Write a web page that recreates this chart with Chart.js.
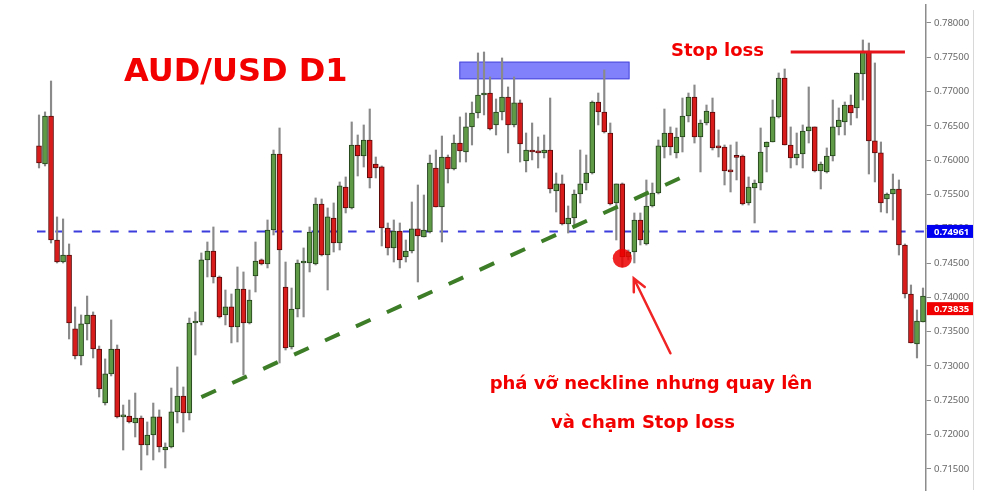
<!DOCTYPE html>
<html lang="vi">
<head>
<meta charset="UTF-8">
<title>AUD/USD D1</title>
<script src="https://cdn.jsdelivr.net/npm/chart.js"></script>
<style>
  html, body { margin: 0; padding: 0; background: #fff; }
  #wrap { width: 1000px; height: 500px; position: relative; }
</style>
</head>
<body>
<div id="wrap"><canvas id="chart"></canvas></div>
<script>
// daily candles
const opens = [
  0.76207, 0.75945, 0.76644, 0.74836, 0.74515, 0.74617, 0.73539, 0.73145, 0.73612, 0.73743,
  0.73247, 0.72459, 0.72883, 0.73247, 0.72256, 0.72270, 0.72168, 0.72241, 0.71847, 0.71993,
  0.72256, 0.71774, 0.71818, 0.72329, 0.72562, 0.72314, 0.73626, 0.73641, 0.74545, 0.74676,
  0.74297, 0.73743, 0.73860, 0.73568, 0.74122, 0.73626, 0.74311, 0.74545, 0.74486, 0.74982,
  0.76090, 0.74151, 0.73276, 0.73830, 0.74501, 0.74501, 0.74486, 0.75361, 0.74617, 0.75157,
  0.74792, 0.75609, 0.75303, 0.76221, 0.76061, 0.76294, 0.75944, 0.75901, 0.75011, 0.74720,
  0.74967, 0.74588, 0.74676, 0.74997, 0.74880, 0.74953, 0.75886, 0.75317, 0.76046, 0.75871,
  0.76250, 0.76119, 0.76484, 0.76688, 0.76950, 0.76979, 0.76513, 0.76702, 0.76921, 0.76513,
  0.76834, 0.75988, 0.76134, 0.76119, 0.76105, 0.76148, 0.75551, 0.75653, 0.75070, 0.75157,
  0.75507, 0.75667, 0.75813, 0.76848, 0.76702, 0.76396, 0.75376, 0.75653, 0.74588, 0.74661,
  0.75128, 0.74778, 0.75332, 0.75521, 0.76192, 0.76396, 0.76105, 0.76338, 0.76644, 0.76921,
  0.76338, 0.76542, 0.76702, 0.76192, 0.76192, 0.75842, 0.76046, 0.76061, 0.75376, 0.75594,
  0.75667, 0.76192, 0.76265, 0.76630, 0.77198, 0.76221, 0.76032, 0.76090, 0.76425, 0.76484,
  0.75842, 0.75828, 0.76061, 0.76484, 0.76557, 0.76804, 0.76761, 0.77256, 0.77592, 0.76280,
  0.76105, 0.75434, 0.75507, 0.75580, 0.74763, 0.74049, 0.73320, 0.73641
];
const highs = [
  0.76659, 0.76703, 0.77154, 0.75172, 0.75143, 0.74778, 0.73860, 0.73743, 0.74019, 0.73787,
  0.73290, 0.73102, 0.73670, 0.73305, 0.72430, 0.72503, 0.72605, 0.72270, 0.72183, 0.72459,
  0.72358, 0.71877, 0.72678, 0.72985, 0.72693, 0.73699, 0.73787, 0.74647, 0.74807, 0.75026,
  0.74311, 0.74107, 0.74049, 0.74443, 0.74370, 0.74107, 0.74807, 0.74559, 0.75128, 0.76148,
  0.76469, 0.74515, 0.74136, 0.74545, 0.74720, 0.75026, 0.75449, 0.75434, 0.75303, 0.75376,
  0.75682, 0.75755, 0.76557, 0.76367, 0.76513, 0.76746, 0.76046, 0.75915, 0.75084, 0.75128,
  0.75084, 0.74836, 0.75390, 0.75638, 0.75492, 0.76075, 0.76148, 0.76352, 0.76075, 0.76367,
  0.76630, 0.76688, 0.76848, 0.77563, 0.77577, 0.77213, 0.76892, 0.77490, 0.77067, 0.77213,
  0.76877, 0.76396, 0.76542, 0.76338, 0.76367, 0.76906, 0.75813, 0.75784, 0.75332, 0.75565,
  0.76148, 0.76075, 0.76863, 0.76979, 0.77315, 0.76542, 0.75653, 0.75667, 0.74690, 0.75230,
  0.75230, 0.75711, 0.75667, 0.76294, 0.76746, 0.76484, 0.76469, 0.76906, 0.76979, 0.77096,
  0.76586, 0.76804, 0.76906, 0.76440, 0.76221, 0.76221, 0.76265, 0.76075, 0.75755, 0.75711,
  0.76469, 0.76265, 0.76877, 0.77271, 0.77329, 0.76484, 0.76396, 0.76513, 0.77067, 0.76484,
  0.75973, 0.76178, 0.76877, 0.76761, 0.76848, 0.76950, 0.77271, 0.77752, 0.77708, 0.77417,
  0.76265, 0.75521, 0.75798, 0.75711, 0.74778, 0.74180, 0.73816, 0.74136
];
const lows = [
  0.75886, 0.75915, 0.74792, 0.74501, 0.74501, 0.73393, 0.73102, 0.73014, 0.73378, 0.73116,
  0.72547, 0.72430, 0.72854, 0.72241, 0.71774, 0.72168, 0.71964, 0.71483, 0.71701, 0.71629,
  0.71745, 0.71512, 0.71804, 0.72168, 0.72037, 0.72212, 0.73159, 0.73597, 0.74297, 0.74209,
  0.73699, 0.73597, 0.73335, 0.73349, 0.72868, 0.73612, 0.74078, 0.74472, 0.74428, 0.74909,
  0.73043, 0.73232, 0.73247, 0.73714, 0.73714, 0.74370, 0.74472, 0.74603, 0.74107, 0.74661,
  0.74690, 0.75230, 0.75288, 0.75769, 0.75900, 0.75594, 0.75740, 0.74749, 0.74617, 0.74515,
  0.74428, 0.74515, 0.74647, 0.74224, 0.74880, 0.74938, 0.75317, 0.74807, 0.75667, 0.75857,
  0.75973, 0.75973, 0.76221, 0.76615, 0.76659, 0.76440, 0.76367, 0.76586, 0.76105, 0.76484,
  0.75973, 0.75828, 0.76003, 0.75886, 0.76032, 0.75521, 0.75244, 0.75055, 0.74938, 0.75026,
  0.75376, 0.75565, 0.75798, 0.76513, 0.76396, 0.75346, 0.74836, 0.74443, 0.74545, 0.74501,
  0.74763, 0.74763, 0.75317, 0.75507, 0.76032, 0.76075, 0.76032, 0.76119, 0.76557, 0.76250,
  0.75828, 0.76513, 0.76148, 0.76046, 0.75638, 0.75536, 0.75711, 0.75346, 0.75346, 0.75084,
  0.75565, 0.75828, 0.76265, 0.76615, 0.76221, 0.75886, 0.75930, 0.75886, 0.76250, 0.75828,
  0.75580, 0.75813, 0.75988, 0.76367, 0.76367, 0.76513, 0.76615, 0.76877, 0.75798, 0.75682,
  0.75244, 0.75230, 0.75128, 0.74617, 0.73990, 0.73335, 0.73116, 0.73641
];
const closes = [
  0.75959, 0.76644, 0.74836, 0.74515, 0.74617, 0.73626, 0.73145, 0.73612, 0.73743, 0.73247,
  0.72664, 0.72883, 0.73247, 0.72256, 0.72270, 0.72183, 0.72241, 0.71847, 0.71993, 0.72256,
  0.71818, 0.71818, 0.72329, 0.72562, 0.72314, 0.73626, 0.73641, 0.74545, 0.74676, 0.74297,
  0.73714, 0.73860, 0.73568, 0.74122, 0.73626, 0.73961, 0.74530, 0.74486, 0.74982, 0.76090,
  0.74690, 0.73261, 0.73830, 0.74501, 0.74515, 0.74953, 0.75361, 0.74617, 0.75172, 0.74792,
  0.75624, 0.75303, 0.76221, 0.76061, 0.76294, 0.75740, 0.75886, 0.75011, 0.74720, 0.74967,
  0.74545, 0.74676, 0.74997, 0.74895, 0.74982, 0.75959, 0.75317, 0.76046, 0.75871, 0.76250,
  0.76134, 0.76484, 0.76688, 0.76950, 0.76979, 0.76455, 0.76702, 0.76921, 0.76513, 0.76834,
  0.76236, 0.76148, 0.76119, 0.76105, 0.76148, 0.75580, 0.75653, 0.75070, 0.75157, 0.75507,
  0.75653, 0.75813, 0.76848, 0.76702, 0.76411, 0.75361, 0.75653, 0.74588, 0.74661, 0.75128,
  0.74836, 0.75332, 0.75521, 0.76207, 0.76396, 0.76192, 0.76338, 0.76644, 0.76921, 0.76338,
  0.76542, 0.76717, 0.76178, 0.76178, 0.75842, 0.75828, 0.76040, 0.75361, 0.75609, 0.75667,
  0.76119, 0.76265, 0.76630, 0.77198, 0.76221, 0.76032, 0.76090, 0.76425, 0.76484, 0.75842,
  0.75944, 0.76061, 0.76484, 0.76586, 0.76804, 0.76688, 0.77271, 0.77592, 0.76280, 0.76105,
  0.75376, 0.75507, 0.75580, 0.74763, 0.74049, 0.73335, 0.73655, 0.74019
];

// price axis
const yTicks = [0.715, 0.72, 0.725, 0.73, 0.735, 0.74, 0.745, 0.75, 0.755, 0.76, 0.765, 0.77, 0.775, 0.78];
const yMin = 0.71191;
const yMax = 0.78262;

// levels drawn on the chart
const neckline = 0.74961;
const lastPrice = 0.73835;
const zoneX = [69.9, 98.2];          // candle index range of the blue box
const zoneY = [0.77179, 0.77436];    // price range of the blue box
const stopX = [125, 144];
const stopLevel = 0.77577;
const trendX = [27, 107];
const trendY = [0.72545, 0.75754];
const breakX = 97;
const breakY = 0.74570;
const arrowX = [105.0, 98.9];        // tail -> tip
const arrowY = [0.73184, 0.74278];

const labels = opens.map((_, i) => String(i + 1));
const isUp = opens.map((o, i) => closes[i] >= o);

function sparse(xs, ys) {
  return labels.map((_, i) => {
    const k = xs.indexOf(i);
    return k === -1 ? null : ys[k];
  });
}

const overlay = {
  id: 'overlay',
  beforeDatasetsDraw(chart) {
    const { ctx, chartArea } = chart;
    const x = chart.scales.x, y = chart.scales.y;
    ctx.save();
    // resistance zone
    const x1 = x.getPixelForValue(zoneX[0]), x2 = x.getPixelForValue(zoneX[1]);
    const y1 = y.getPixelForValue(zoneY[1]), y2 = y.getPixelForValue(zoneY[0]);
    ctx.fillStyle = 'rgba(112,112,250,0.88)';
    ctx.fillRect(x1, y1, x2 - x1, y2 - y1);
    ctx.strokeStyle = '#4b4bdc';
    ctx.lineWidth = 1;
    ctx.strokeRect(x1 + 0.5, y1 + 0.5, x2 - x1 - 1, y2 - y1 - 1);
    // neckline
    const ny = y.getPixelForValue(neckline);
    ctx.setLineDash([8.5, 9.8]);
    ctx.strokeStyle = '#3c3cdc';
    ctx.lineWidth = 2;
    ctx.beginPath();
    ctx.moveTo(chartArea.left + 1, ny);
    ctx.lineTo(chartArea.right, ny);
    ctx.stroke();
    ctx.restore();
  },
  afterDraw(chart) {
    const { ctx, chartArea } = chart;
    const x = chart.scales.x, y = chart.scales.y;
    ctx.save();

    // light border right of the price labels
    ctx.strokeStyle = '#d8d8d8';
    ctx.lineWidth = 1;
    ctx.beginPath();
    ctx.moveTo(973.5, chartArea.top + 5);
    ctx.lineTo(973.5, chartArea.bottom);
    ctx.stroke();

    // price badges
    function badge(value, color) {
      const py = y.getPixelForValue(value);
      ctx.fillStyle = color;
      ctx.fillRect(chartArea.right + 1, py - 6.5, 973 - chartArea.right - 1, 13);
      ctx.fillStyle = '#fff';
      ctx.font = 'bold 9.5px "Noto Sans"';
      ctx.textAlign = 'left';
      ctx.textBaseline = 'middle';
      ctx.fillText(value.toFixed(5), chartArea.right + 8, py + 0.5);
    }
    badge(neckline, '#0000f0');
    badge(lastPrice, '#f00000');

    // arrow
    const ax1 = x.getPixelForValue(arrowX[0]), ay1 = y.getPixelForValue(arrowY[0]);
    const ax2 = x.getPixelForValue(arrowX[1]), ay2 = y.getPixelForValue(arrowY[1]);
    const ang = Math.atan2(ay2 - ay1, ax2 - ax1);
    ctx.strokeStyle = '#f02424';
    ctx.lineWidth = 2.5;
    ctx.lineCap = 'round';
    ctx.beginPath();
    ctx.moveTo(ax1, ay1);
    ctx.lineTo(ax2, ay2);
    ctx.moveTo(ax2 - 14 * Math.cos(ang - 0.45), ay2 - 14 * Math.sin(ang - 0.45));
    ctx.lineTo(ax2, ay2);
    ctx.lineTo(ax2 - 14 * Math.cos(ang + 0.45), ay2 - 14 * Math.sin(ang + 0.45));
    ctx.stroke();

    // texts
    ctx.fillStyle = '#f20000';
    ctx.textAlign = 'left';
    ctx.textBaseline = 'alphabetic';
    ctx.font = 'bold 32px "DejaVu Sans"';
    ctx.fillText('AUD/USD D1', 124, 81);
    ctx.font = 'bold 18px "DejaVu Sans"';
    ctx.fillText('Stop loss', 671, 56);
    ctx.textAlign = 'center';
    ctx.fillText('phá vỡ neckline nhưng quay lên', 651, 389);
    ctx.fillText('và chạm Stop loss', 643, 428);
    ctx.restore();
  }
};

new Chart(document.getElementById('chart'), {
  data: {
    labels: labels,
    datasets: [
      {
        type: 'line',
        label: 'trend',
        data: sparse(trendX, trendY),
        borderColor: '#3d7d28',
        borderWidth: 4,
        borderDash: [16, 18],
        pointRadius: 0,
        spanGaps: true,
        order: 0
      },
      {
        type: 'line',
        label: 'stop loss',
        data: sparse(stopX, [stopLevel, stopLevel]),
        borderColor: '#e8141c',
        borderWidth: 3,
        pointRadius: 0,
        spanGaps: true,
        order: 0
      },
      {
        type: 'line',
        label: 'break',
        data: sparse([breakX], [breakY]),
        showLine: false,
        pointRadius: 9.5,
        pointBackgroundColor: 'rgba(236,0,0,0.86)',
        pointBorderWidth: 0,
        order: 0
      },
      {
        type: 'bar',
        label: 'body',
        data: opens.map((o, i) => [o, closes[i]]),
        backgroundColor: isUp.map(u => u ? '#5f9a47' : '#d81c1c'),
        borderColor: isUp.map(u => u ? '#22401a' : '#5a0a0a'),
        borderWidth: 1,
        borderSkipped: false,
        barThickness: 5,
        minBarLength: 2,
        grouped: false,
        order: 1
      },
      {
        type: 'bar',
        label: 'wick',
        data: lows.map((l, i) => [l, highs[i]]),
        backgroundColor: '#8a8a8a',
        barThickness: 1.5,
        grouped: false,
        order: 2
      }
    ]
  },
  options: {
    responsive: true,
    maintainAspectRatio: false,
    animation: false,
    events: [],
    layout: { autoPadding: false, padding: { left: 36, right: 26, top: 5, bottom: 10 } },
    plugins: {
      legend: { display: false },
      tooltip: { enabled: false }
    },
    scales: {
      x: {
        type: 'category',
        display: false,
        offset: true,
        grid: { display: false }
      },
      y: {
        position: 'right',
        min: yMin,
        max: yMax,
        afterBuildTicks: s => { s.ticks = yTicks.map(v => ({ value: v })); },
        afterFit: s => { s.width = 48; s.paddingTop = 0; s.paddingBottom = 0; },
        grid: { drawOnChartArea: false, drawTicks: true, tickLength: 5, color: '#8c8c8c' },
        border: { color: '#8c8c8c', width: 1.5 },
        ticks: {
          color: '#666',
          padding: 3,
          font: { family: 'Noto Sans', size: 9.5 },
          callback: v => v.toFixed(5)
        }
      }
    }
  },
  plugins: [overlay]
});
</script>
</body>
</html>
